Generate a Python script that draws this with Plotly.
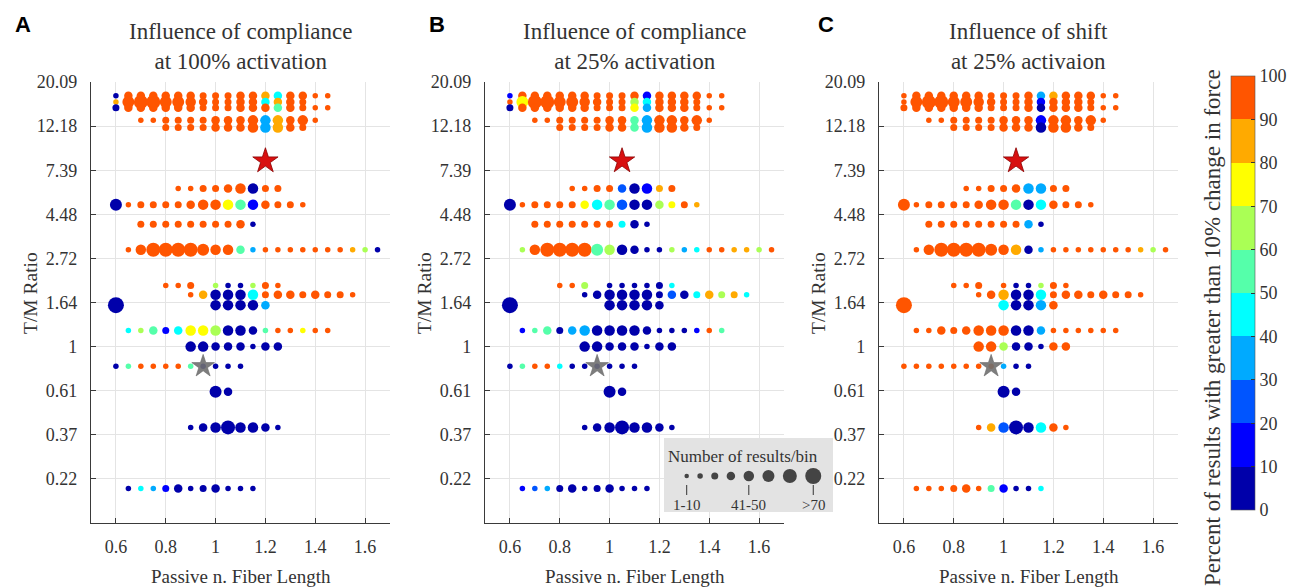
import plotly.graph_objects as go
import math

W, H = 1291, 587

# ---------------- data ----------------
x_bins = [0.6, 0.65, 0.7, 0.75, 0.8, 0.85, 0.9, 0.95, 1.0, 1.05, 1.1, 1.15,
          1.2, 1.25, 1.3, 1.35, 1.4, 1.45, 1.5, 1.55, 1.6, 1.65]

row_y = [17.2, 16.0, 15.0, 13.0, 12.0, 6.0, 5.0, 4.0, 3.0, 2.0, 1.8, 1.6,
         1.2, 1.0, 0.8, 0.6, 0.4, 0.2]
row_start = [0, 0, 0, 2, 2, 5, 0, 2, 1, 4, 6, 0, 1, 6, 0, 8, 6, 1]

# size class of each bin (number of results/bin: 1 = 1-10 ... 8 = >70, 0 = empty)
row_sizes = [
    [2, 4, 4, 4, 4, 4, 4, 3, 3, 3, 4, 4, 4, 4, 4, 4, 2, 2],
    [2, 6, 7, 7, 6, 6, 5, 4, 3, 3, 4, 4, 4, 4, 4, 3, 0, 0],
    [3, 4, 4, 4, 4, 4, 4, 3, 3, 3, 4, 4, 4, 4, 4, 3, 2, 2],
    [2, 2, 3, 3, 3, 3, 4, 4, 4, 5, 5, 5, 4, 5, 2],
    [0, 0, 3, 3, 3, 3, 4, 4, 4, 5, 5, 5, 4, 3, 0],
    [2, 2, 3, 3, 4, 5, 5, 3, 3],
    [6, 2, 3, 3, 3, 3, 4, 5, 5, 5, 5, 5, 4, 3, 3, 2],
    [3, 3, 3, 3, 3, 3, 3, 3, 4, 2],
    [2, 5, 7, 7, 7, 7, 6, 5, 5, 4, 2, 2, 2, 2, 2, 2, 2, 2, 2, 2, 2],
    [2, 2, 3, 0, 2, 2, 2, 2, 3, 2],
    [2, 4, 5, 5, 5, 5, 3, 4, 4, 3, 4, 3, 3, 2],
    [8, 0, 0, 0, 0, 0, 0, 0, 5, 5, 5, 5, 4],
    [2, 2, 4, 3, 4, 5, 5, 5, 5, 5, 4, 2, 2, 2, 2, 2, 2],
    [5, 5, 4, 4, 4, 2, 4, 4],
    [2, 2, 2, 2, 2, 2, 2, 2, 2, 2, 2],
    [6, 4],
    [2, 4, 5, 7, 5, 5, 4, 2],
    [2, 2, 2, 3, 4, 2, 3, 4, 2, 2, 2],
]

# percent of results with >10% change in force
pct_A = [
    [5, 95, 95, 95, 95, 95, 95, 95, 95, 95, 95, 95, 85, 45, 95, 95, 95, 95],
    [85, 95, 95, 95, 95, 95, 95, 95, 95, 95, 95, 95, 45, 85, 95, 95, 95, 95],
    [5, 95, 95, 95, 95, 95, 95, 95, 95, 95, 95, 95, 95, 55, 95, 95, 95, 95],
    [95, 95, 95, 95, 95, 95, 95, 95, 95, 95, 35, 85, 95, 95, 95],
    [95, 95, 95, 95, 95, 95, 95, 95, 95, 95, 35, 85, 95, 95, 95],
    [95, 95, 95, 95, 95, 95, 5, 95, 95],
    [5, 95, 95, 95, 95, 95, 95, 95, 95, 75, 55, 15, 95, 95, 95, 95],
    [95, 95, 95, 95, 95, 95, 95, 95, 95, 5],
    [95, 95, 95, 95, 95, 95, 95, 95, 95, 55, 35, 95, 95, 95, 95, 95, 95, 95, 85, 65, 5],
    [95, 95, 95, 0, 65, 5, 5, 65, 95, 95],
    [95, 85, 5, 5, 5, 45, 95, 95, 95, 95, 95, 95, 95, 95],
    [5, 0, 0, 0, 0, 0, 0, 0, 5, 5, 5, 5, 35],
    [45, 65, 55, 15, 45, 75, 75, 65, 5, 5, 5, 55, 95, 95, 75, 95, 95],
    [5, 5, 5, 5, 5, 5, 5, 5],
    [5, 55, 95, 95, 95, 95, 55, 5, 5, 5, 5],
    [5, 5],
    [5, 5, 5, 5, 5, 5, 5, 5],
    [5, 45, 35, 15, 5, 5, 5, 5, 5, 5, 5],
]
pct_B = [
    [15, 95, 95, 95, 95, 95, 95, 95, 95, 95, 95, 15, 95, 95, 95, 95, 95, 95],
    [95, 75, 95, 95, 95, 95, 95, 95, 95, 95, 65, 45, 95, 95, 95, 95, 95, 95],
    [5, 95, 95, 95, 95, 95, 95, 95, 95, 95, 75, 35, 95, 95, 95, 95, 95, 95],
    [95, 95, 95, 95, 95, 95, 95, 95, 55, 35, 95, 95, 95, 95, 95],
    [95, 95, 95, 95, 95, 95, 95, 95, 55, 35, 95, 95, 95, 95, 95],
    [95, 95, 95, 95, 25, 5, 15, 85, 95],
    [5, 95, 95, 95, 95, 95, 75, 45, 55, 25, 5, 5, 65, 75, 95, 85],
    [95, 95, 95, 95, 95, 95, 95, 45, 5, 5],
    [65, 95, 95, 95, 95, 95, 55, 65, 5, 5, 5, 5, 65, 35, 45, 95, 95, 85, 85, 65, 95],
    [95, 95, 65, 0, 5, 5, 5, 5, 5, 45],
    [5, 5, 5, 5, 5, 5, 5, 25, 5, 45, 85, 65, 85, 45],
    [5, 0, 0, 0, 0, 0, 0, 0, 5, 5, 5, 5, 5],
    [15, 55, 55, 5, 35, 35, 5, 5, 5, 5, 5, 5, 5, 5, 15, 95, 55],
    [5, 5, 5, 5, 5, 5, 5, 5],
    [5, 55, 95, 95, 45, 5, 5, 5, 5, 5, 5],
    [5, 5],
    [5, 5, 5, 5, 5, 5, 5, 5],
    [15, 25, 35, 5, 5, 5, 5, 5, 5, 5, 5],
]
pct_C = [
    [95, 95, 95, 95, 95, 95, 95, 95, 95, 95, 95, 35, 85, 95, 95, 95, 95, 95],
    [95, 95, 95, 95, 95, 95, 95, 95, 95, 95, 95, 15, 95, 95, 95, 95, 95, 95],
    [95, 95, 95, 95, 95, 95, 95, 95, 95, 95, 95, 5, 95, 95, 95, 95, 95, 95],
    [95, 95, 95, 95, 95, 95, 95, 95, 95, 15, 95, 95, 95, 95, 95],
    [95, 95, 95, 95, 95, 95, 95, 95, 95, 5, 95, 95, 95, 95, 95],
    [95, 95, 95, 95, 95, 35, 35, 95, 95],
    [95, 95, 95, 95, 95, 95, 95, 95, 95, 55, 5, 45, 95, 95, 95, 95],
    [95, 95, 95, 95, 95, 95, 95, 95, 35, 5],
    [95, 95, 95, 95, 95, 95, 95, 95, 85, 5, 35, 95, 95, 95, 95, 95, 95, 95, 85, 65, 95],
    [95, 95, 95, 0, 95, 5, 5, 65, 95, 95],
    [95, 95, 85, 5, 5, 45, 95, 95, 95, 95, 95, 95, 95, 95],
    [95, 0, 0, 0, 0, 0, 0, 0, 45, 5, 5, 35, 95],
    [95, 95, 95, 95, 95, 95, 95, 95, 5, 5, 35, 95, 95, 95, 95, 95, 95],
    [95, 95, 65, 5, 5, 5, 95, 95],
    [95, 95, 95, 95, 95, 95, 95, 95, 35, 5, 5],
    [5, 5],
    [95, 85, 25, 5, 5, 45, 95, 95],
    [95, 95, 95, 95, 95, 95, 55, 15, 5, 5, 45],
]

star_x = [1.2, 1.05, 1.05]          # red star per panel
star_y = [8.2, 8.2, 8.2]
ref_x = [0.95, 0.95, 0.95]          # grey star per panel
ref_y = [0.8, 0.8, 0.8]

panel_titles = ["Influence of compliance<br>at 100% activation",
                "Influence of compliance<br>at 25% activation",
                "Influence of shift<br>at 25% activaion"]
panel_letters = ["A", "B", "C"]

y_tick_vals = [0.2231, 0.3679, 0.6065, 1.0, 1.6487, 2.7183, 4.4817, 7.3891, 12.1825, 20.0855]
y_tick_text = ["0.22", "0.37", "0.61", "1", "1.64", "2.72", "4.48", "7.39", "12.18", "20.09"]
x_tick_vals = [0.6, 0.8, 1.0, 1.2, 1.4, 1.6]
x_tick_text = ["0.6", "0.8", "1", "1.2", "1.4", "1.6"]

legend_bins = ["1-10", "11-20", "21-30", "31-40", "41-50", "51-60", "61-70", ">70"]
legend_shown = [0, 4, 7]
cbar_ticks = [0, 10, 20, 30, 40, 50, 60, 70, 80, 90, 100]

# ---------------- styling ----------------
SIZE_PX = [0, 4.5, 5.5, 7, 8.5, 10.5, 12, 14, 16]
JET10 = ["#0000AA", "#0000FF", "#0055FF", "#00AAFF", "#00FFFF",
         "#55FFAA", "#AAFF55", "#FFFF00", "#FFAA00", "#FF5500"]
colorscale = []
for k, c in enumerate(JET10):
    colorscale.append([k / 10, c])
    colorscale.append([(k + 1) / 10, c])

SERIF = "Liberation Serif, Times New Roman, serif"
TXT = "#333333"
GRID = "#E4E4E4"

panel_px = [(91, 390), (485, 784), (879, 1178)]
top_px, bot_px = 82, 523


def px2x(px):
    return px / W


def py2y(py):
    return 1 - py / H


fig = go.Figure()

for p, pct in enumerate([pct_A, pct_B, pct_C]):
    xs, ys, ss, cs = [], [], [], []
    for r, yv in enumerate(row_y):
        for i, s in enumerate(row_sizes[r]):
            if s == 0:
                continue
            xs.append(x_bins[row_start[r] + i])
            ys.append(yv)
            ss.append(SIZE_PX[s])
            cs.append(pct[r][i])
    ax = "" if p == 0 else str(p + 1)
    marker = dict(size=ss, color=cs, colorscale=colorscale, cmin=0, cmax=100,
                  line=dict(width=0), opacity=1)
    if p == 0:
        marker.update(showscale=True, colorbar=dict(
            x=1231 / W, xanchor="left", xpad=0, xref="paper",
            y=py2y((76 + 510) / 2), yanchor="middle", ypad=0, yref="paper",
            len=434, lenmode="pixels", thickness=24, thicknessmode="pixels",
            tickvals=cbar_ticks, ticks="inside", ticklen=4, tickcolor="#333",
            tickfont=dict(family=SERIF, size=18, color=TXT),
            outlinewidth=0.6, outlinecolor="#555"))
    fig.add_trace(go.Scatter(x=xs, y=ys, mode="markers", marker=marker,
                             xaxis="x" + ax, yaxis="y" + ax,
                             hoverinfo="skip", showlegend=False))
    fig.add_trace(go.Scatter(x=[star_x[p]], y=[star_y[p]], mode="markers",
                             marker=dict(symbol="star", size=19, color="#D81010",
                                         line=dict(color="#8A0000", width=0.8)),
                             xaxis="x" + ax, yaxis="y" + ax,
                             hoverinfo="skip", showlegend=False))
    fig.add_trace(go.Scatter(x=[ref_x[p]], y=[ref_y[p]], mode="markers",
                             marker=dict(symbol="star", size=17, color="#707070",
                                         opacity=0.9,
                                         line=dict(color="#555555", width=0.6)),
                             xaxis="x" + ax, yaxis="y" + ax,
                             hoverinfo="skip", showlegend=False))

axis_common = dict(showgrid=True, gridcolor=GRID, gridwidth=1, zeroline=False,
                   showline=True, linecolor="#3a3a3a", linewidth=1.2,
                   ticks="inside", ticklen=5, tickcolor="#3a3a3a",
                   tickfont=dict(family=SERIF, size=18, color=TXT),
                   fixedrange=True)

layout = dict(width=W, height=H,
              margin=dict(l=0, r=0, t=0, b=0, autoexpand=False),
              paper_bgcolor="white", plot_bgcolor="white", showlegend=False)

annotations = []
for p in range(3):
    ax = "" if p == 0 else str(p + 1)
    l, r = panel_px[p]
    layout["xaxis" + ax] = dict(axis_common, domain=[px2x(l), px2x(r)], range=[0.5, 1.7],
                                tickvals=x_tick_vals, ticktext=x_tick_text,
                                anchor="y" + ax, ticklabelstandoff=7)
    layout["yaxis" + ax] = dict(axis_common, type="log",
                                domain=[py2y(bot_px), py2y(top_px)],
                                range=[math.log10(math.exp(-2)), math.log10(math.exp(3))],
                                tickvals=y_tick_vals, ticktext=y_tick_text,
                                anchor="x" + ax, ticklabelstandoff=9)
    cx = (l + r) / 2
    annotations.append(dict(text=panel_titles[p], x=px2x(cx), y=py2y(46), xref="paper",
                            yref="paper", showarrow=False, xanchor="center", yanchor="middle",
                            font=dict(family=SERIF, size=23, color=TXT)))
    annotations.append(dict(text="Passive n. Fiber Length", x=px2x(cx), y=py2y(576),
                            xref="paper", yref="paper", showarrow=False,
                            xanchor="center", yanchor="middle",
                            font=dict(family=SERIF, size=19, color=TXT)))
    annotations.append(dict(text="T/M Ratio", x=px2x(l - 61), y=py2y(293),
                            xref="paper", yref="paper", showarrow=False, textangle=-90,
                            xanchor="center", yanchor="middle",
                            font=dict(family=SERIF, size=19.5, color=TXT)))

for letter, lx in zip(panel_letters, [22.5, 437, 826]):
    annotations.append(dict(text="<b>" + letter + "</b>", x=px2x(lx), y=py2y(24.5),
                            xref="paper", yref="paper", showarrow=False,
                            xanchor="center", yanchor="middle",
                            font=dict(family="Liberation Sans, Arial, sans-serif",
                                      size=22, color="black")))

annotations.append(dict(text="Percent of results with greater than 10% change in force",
                        x=px2x(1212), y=py2y(328), xref="paper", yref="paper",
                        showarrow=False, textangle=-90, xanchor="center", yanchor="middle",
                        font=dict(family=SERIF, size=23, color=TXT)))

# ---------------- size legend (panel B inset) ----------------
bx0, bx1, by0, by1 = 664, 833, 438, 512
layout["xaxis4"] = dict(domain=[px2x(bx0), px2x(bx1)], range=[0, bx1 - bx0],
                        visible=False, fixedrange=True, anchor="y4")
layout["yaxis4"] = dict(domain=[py2y(by1), py2y(by0)], range=[0, by1 - by0],
                        visible=False, fixedrange=True, anchor="x4")
fig.add_trace(go.Scatter(x=[0, bx1 - bx0, bx1 - bx0, 0, 0], y=[0, 0, by1 - by0, by1 - by0, 0],
                         mode="lines", fill="toself", fillcolor="#E3E3E3",
                         line=dict(width=0), xaxis="x4", yaxis="y4",
                         hoverinfo="skip", showlegend=False))
leg_sizes = [SIZE_PX[k] for k in range(1, 9)]
leg_x = [22.7]
for k in range(1, 8):
    leg_x.append(leg_x[-1] + leg_sizes[k - 1] / 2 + 8.4 + leg_sizes[k] / 2)
leg_y = [by1 - 476] * 8
fig.add_trace(go.Scatter(x=leg_x, y=leg_y, mode="markers",
                         marker=dict(size=leg_sizes, color="black", line=dict(width=0)),
                         xaxis="x4", yaxis="y4", hoverinfo="skip", showlegend=False))
annotations.append(dict(text="Number of results/bin", x=(743 - bx0), y=by1 - 456,
                        xref="x4", yref="y4", showarrow=False, xanchor="center",
                        yanchor="middle", font=dict(family=SERIF, size=17, color=TXT)))
shapes = []
for k in legend_shown:
    shapes.append(dict(type="line", xref="x4", yref="y4", x0=leg_x[k], x1=leg_x[k],
                       y0=by1 - 495, y1=by1 - 485, line=dict(color=TXT, width=1)))
    annotations.append(dict(text=legend_bins[k], x=leg_x[k], y=by1 - 505, xref="x4",
                            yref="y4", showarrow=False, xanchor="center", yanchor="middle",
                            font=dict(family=SERIF, size=15, color=TXT)))

layout["annotations"] = annotations
layout["shapes"] = shapes
fig.update_layout(**layout)

fig.write_html("out.html", config={"displayModeBar": False},
               post_script="document.body.style.margin='0';"
                           "document.body.style.overflow='hidden';")
